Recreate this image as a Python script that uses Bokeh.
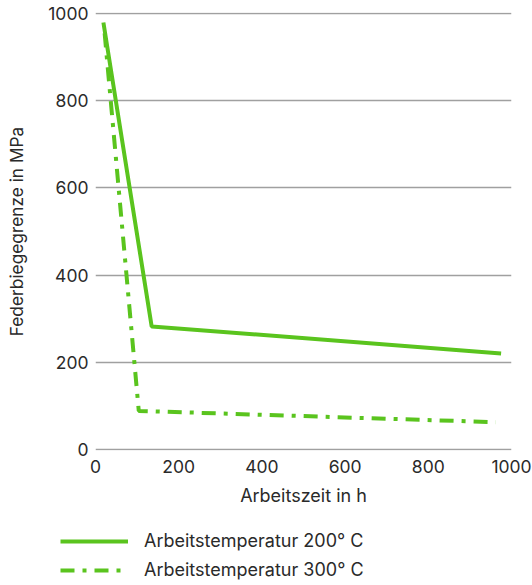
from bokeh.plotting import figure
from bokeh.models import Range1d, FixedTicker, Legend, LegendItem
from bokeh.layouts import column
from bokeh.embed import file_html
from bokeh.resources import INLINE

# data
hours_200 = [19, 135, 975]
limit_200 = [980, 282, 220]
hours_300 = [22, 104, 962]
limit_300 = [955, 88, 62]
series_names = ["Arbeitstemperatur 200° C", "Arbeitstemperatur 300° C"]
x_ticks = [0, 200, 400, 600, 800, 1000]
y_ticks = [0, 200, 400, 600, 800, 1000]

GREEN = "#5ac41e"
TEXT = "#2a2a2a"
FONT = "Inter"
DASH = "14 8 4 8"

p = figure(width=532, height=512, output_backend="svg", toolbar_location=None,
           x_range=Range1d(0, 1000), y_range=Range1d(-3, 1003),
           min_border_left=95, min_border_right=21, min_border_top=12, min_border_bottom=62)
p.frame_align = False
p.outline_line_color = None
p.background_fill_color = None
p.border_fill_color = "white"

p.line(hours_200, limit_200, line_color=GREEN, line_width=4)
p.line(hours_300, limit_300, line_color=GREEN, line_width=4, line_dash=DASH)

for ax in (p.xaxis, p.yaxis):
    ax.axis_line_color = None
    ax.major_tick_line_color = None
    ax.minor_tick_line_color = None
    ax.major_tick_out = 0
    ax.major_tick_in = 0
    ax.major_label_text_font = FONT
    ax.major_label_text_font_size = "17.5px"
    ax.major_label_text_color = TEXT
    ax.axis_label_text_font = FONT
    ax.axis_label_text_font_style = "normal"
    ax.axis_label_text_color = TEXT

p.xaxis.axis_label_text_font_size = "18px"
p.yaxis.axis_label_text_font_size = "17.3px"
p.xaxis.ticker = FixedTicker(ticks=x_ticks)
p.yaxis.ticker = FixedTicker(ticks=y_ticks)
p.xaxis.axis_label = "Arbeitszeit in h"
p.yaxis.axis_label = "Federbiegegrenze in MPa"
p.xaxis.major_label_standoff = 9
p.yaxis.major_label_standoff = 7
p.xaxis.axis_label_standoff = 9
p.yaxis.axis_label_standoff = 18

p.xgrid.grid_line_color = None
p.ygrid.grid_line_color = "#a0a0a0"
p.ygrid.grid_line_width = 1.5

# legend strip below the chart (same series, drawn off-view so only the legend shows)
lg = figure(width=532, height=73, output_backend="svg", toolbar_location=None,
            x_axis_location=None, y_axis_location=None,
            x_range=Range1d(5000, 6000), y_range=Range1d(0, 1000),
            min_border_left=0, min_border_right=0, min_border_top=0, min_border_bottom=0)
lg.frame_align = False
lg.grid.visible = False
lg.outline_line_color = None
lg.background_fill_color = None
lg.border_fill_color = "white"
r1 = lg.line(hours_200, limit_200, line_color=GREEN, line_width=4)
r2 = lg.line(hours_300, limit_300, line_color=GREEN, line_width=4, line_dash=DASH)

legend = Legend(items=[LegendItem(label=series_names[0], renderers=[r1]),
                       LegendItem(label=series_names[1], renderers=[r2])],
                location=(60, 5))
legend.border_line_color = None
legend.background_fill_alpha = 0
legend.padding = 0
legend.margin = 0
legend.glyph_width = 68
legend.glyph_height = 16
legend.label_height = 16
legend.spacing = 8
legend.label_standoff = 16
legend.label_text_font = FONT
legend.label_text_font_size = "18px"
legend.label_text_color = TEXT
lg.add_layout(legend, "center")

layout = column(p, lg, spacing=0)
open("out.html", "w").write(file_html(layout, INLINE))
